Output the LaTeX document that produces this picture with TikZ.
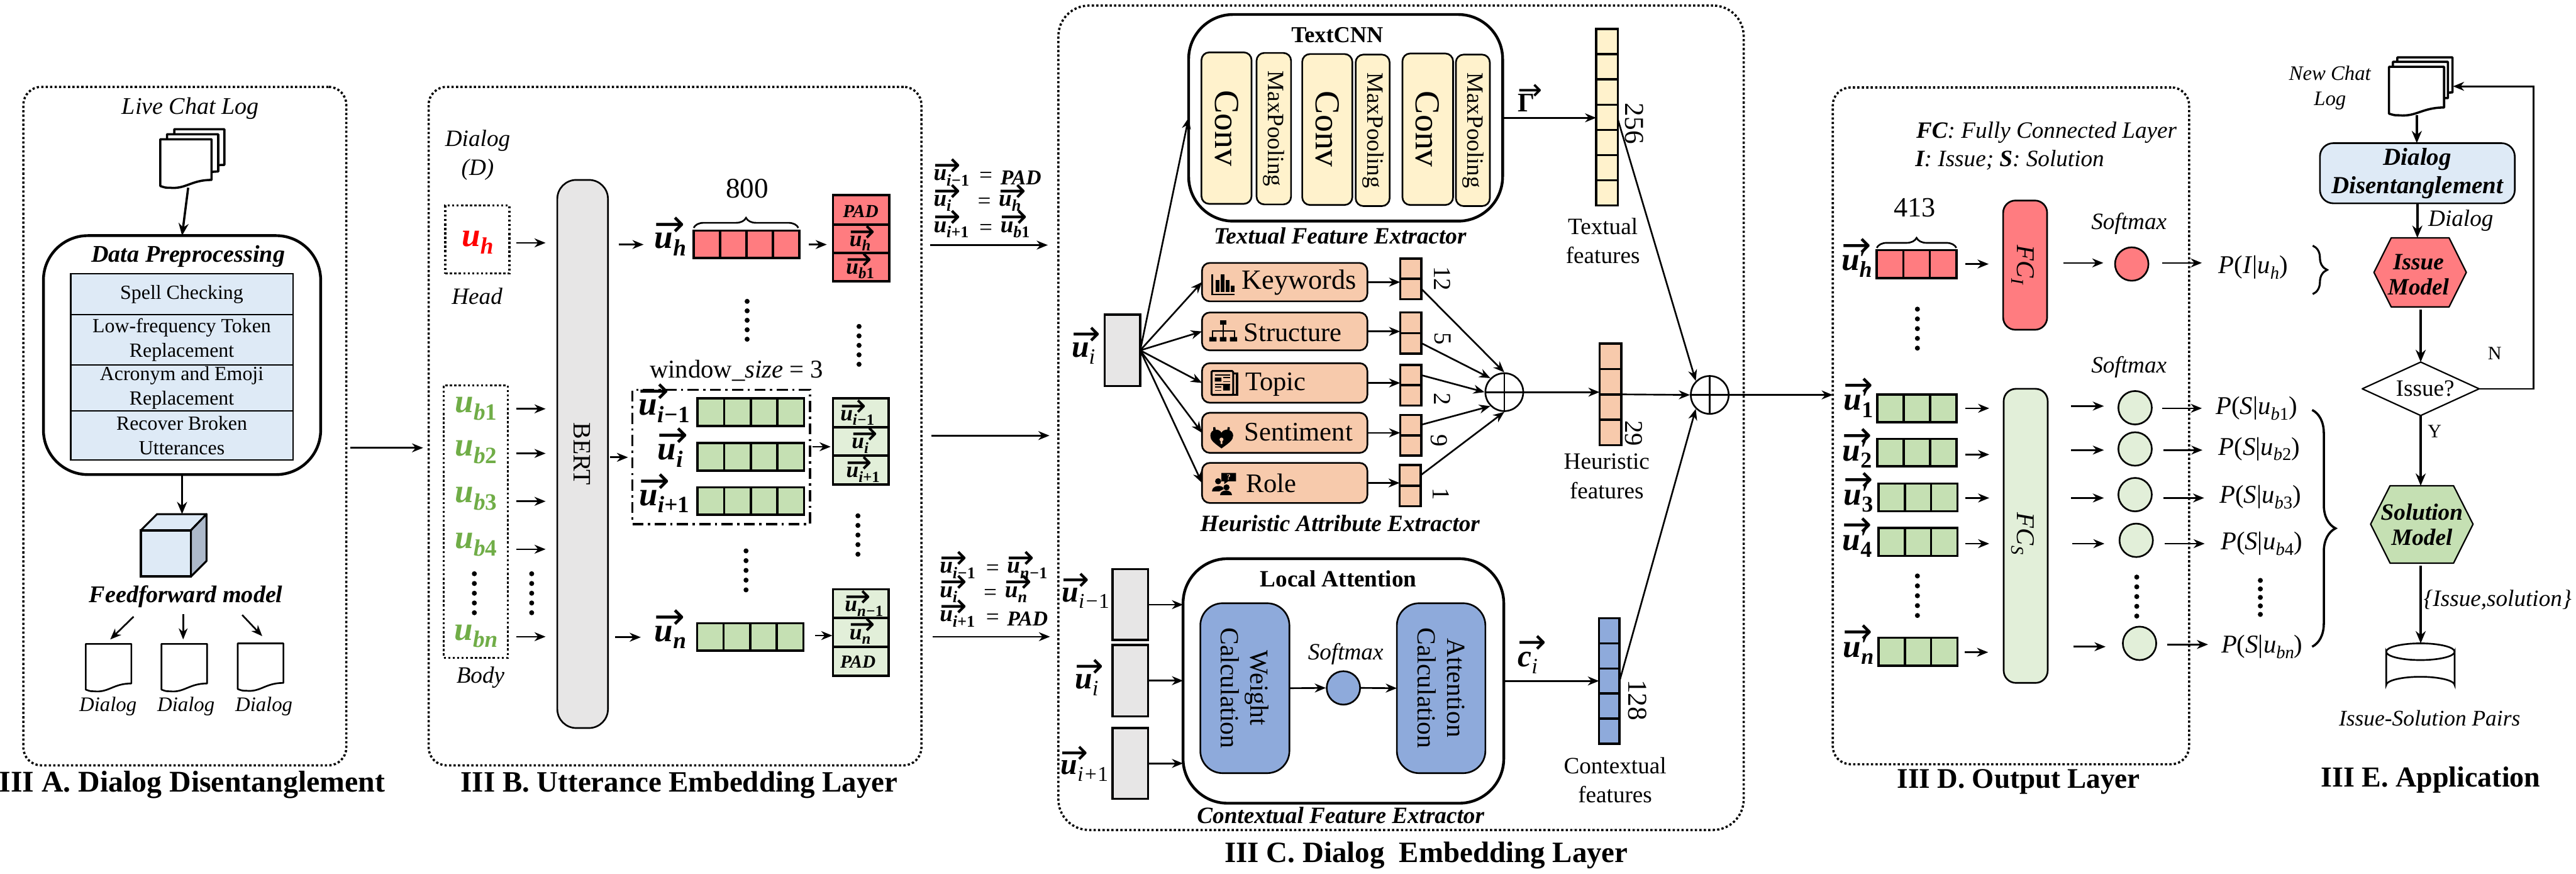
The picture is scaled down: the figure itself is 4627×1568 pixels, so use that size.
\RequirePackage{fix-cm}
\documentclass[tikz,border=0pt]{standalone}
\usepackage{amsmath,graphicx}
\usepackage[no-math]{fontspec}
\setmainfont{Liberation Serif}
\newfontfamily\arrf{DejaVu Sans}
\usetikzlibrary{arrows.meta,decorations.pathreplacing}
\definecolor{cred}{HTML}{FF7C80}
\definecolor{cgreen}{HTML}{C5E0B3}
\definecolor{cpale}{HTML}{E2EFD9}
\definecolor{ccream}{HTML}{FFF2CC}
\definecolor{corange}{HTML}{F7CAAC}
\definecolor{cblue}{HTML}{8EAADB}
\definecolor{cpblue}{HTML}{DEEAF6}
\definecolor{cgray}{HTML}{E7E6E6}
\definecolor{cside}{HTML}{ADB9CA}
\definecolor{ugreen}{HTML}{70AD47}
\tikzset{
  arr/.style={-{Stealth[length=20pt,width=16pt]},line width=3pt},
  arrb/.style={-{Stealth[length=22pt,width=18pt]},line width=4pt},
  frame/.style={draw,line width=4pt,dash pattern=on 4pt off 4pt,rounded corners=32pt},
  lab/.style={inner sep=0pt,outer sep=0pt,align=center},
  cell/.style={draw,line width=4pt},
  rbox/.style={draw,line width=3pt,rounded corners=#1},
  bigbox/.style={draw,line width=5pt,rounded corners=80pt},
  ghost/.style={},
  plainc/.style={draw,circle,line width=3pt,inner sep=0pt,minimum size=#1},
}
\newcommand\bx[7]{\node[#6,inner sep=0pt,outer sep=0pt,minimum width={#4-#2},minimum height={#5-#3},align=center] (#1) at ({(#2+#4)/2},{(#3+#5)/2}) {#7};}
\newcommand\lb[6]{\node[lab,font=\fontsize{#4}{#4}\selectfont #5] (#1) at (#2,#3) {#6};}
\newcommand\rlb[6]{\node[lab,rotate=-90,font=\fontsize{#4}{#4}\selectfont #5] (#1) at (#2,#3) {#6};}
\newcommand\fa[5]{\coordinate (#1a) at (#2,#3); \coordinate (#1b) at (#4,#5); \draw[arr] (#1a) -- (#1b);}
\newcommand\cellsh[7]{\bx{#1}{#2}{#3}{#4}{#5}{cell,fill=#7}{}
  \foreach \k in {1,...,#6}{\draw[line width=4pt] ({#2+(#4-#2)*\k/(#6+1)},#3) -- ({#2+(#4-#2)*\k/(#6+1)},#5);}}
\newcommand\cellsv[7]{\bx{#1}{#2}{#3}{#4}{#5}{cell,fill=#7}{}
  \foreach \k in {1,...,#6}{\draw[line width=4pt] (#2,{#3+(#5-#3)*\k/(#6+1)}) -- (#4,{#3+(#5-#3)*\k/(#6+1)});}}
\newcommand\dotcol[3]{\foreach \k in {0,...,4}{\fill (#1,{#2+(#3-#2)*\k/4}) circle (4.5pt);}}
\newcommand\docp[5]{\path[draw,fill=white,line width=#5,line join=round] (#1,#2) -- (#3,#2) -- (#3,{#4-14})
  .. controls ({#1+(#3-#1)*.6},{#4-14}) and ({#1+(#3-#1)*.5},{#4+3}) .. ({#1+(#3-#1)*.18},#4)
  .. controls ({#1+(#3-#1)*.1},#4) .. (#1,{#4-3}) -- cycle;}
\newcommand\arrowtop[2]{\rlap{\smash{\raisebox{#1}{\scalebox{#2}{\upshape\mdseries\arrf →}}}}}
\newcommand\ssb[1]{\raisebox{-.22em}{\scalebox{.7}{#1}}}
\newcommand\uu[1]{\mbox{\bfseries\itshape u\ssb{#1}}}
\newcommand\vu[1]{\mbox{\bfseries\itshape\arrowtop{.37em}{1.1}u\ssb{#1}}}
\newcommand\vus[1]{\mbox{\bfseries\itshape\arrowtop{.2em}{1.4}u\ssb{#1}}}
\newcommand\vup[1]{\mbox{\bfseries\itshape\arrowtop{.42em}{1.1}u\rlap{\raisebox{.12em}{\scalebox{.75}{′}}}\ssb{#1}}}
\newcommand\pp[2]{\textit{P}(\textit{#1}|\textit{u}\ssb{\textit{#2}})}
\newcommand\eqr[6]{\node[lab,anchor=west,font=\fontsize{42}{42}\selectfont] (#1x) at (#2,#3) {#4};
  \node[lab,anchor=west,font=\fontsize{42}{42}\selectfont] (#1e) at (#5,#3) {=};
  \node[lab,anchor=west,font=\fontsize{42}{42}\selectfont] (#1y) at ({#5+38},#3) {#6};}
\newcommand\pad{{\fontsize{38}{38}\selectfont\bfseries\itshape PAD}}
\begin{document}
\begin{tikzpicture}[x=1pt,y=-1pt]
\useasboundingbox (0,0) rectangle (4627,1568);
\fill[white] (0,0) rectangle (4627,1568);

%% ===== Panel A =====
\bx{panA}{42}{156}{622}{1374}{frame}{}
\lb{liveL}{342}{195}{43}{\itshape}{Live Chat Log}
\docp{313}{232}{403}{310}{4pt}
\docp{300}{241}{392}{322}{4pt}
\docp{288}{250}{380}{337}{4pt}
\bx{liveD}{288}{250}{388}{337}{ghost}{}
\bx{prep}{78}{423}{576}{852}{bigbox}{}
\lb{prepT}{338}{460}{43}{\bfseries\itshape}{Data Preprocessing}
\bx{t1}{127}{491}{526}{565}{draw,line width=2.5pt,fill=cpblue,font=\fontsize{36}{45}\selectfont}{Spell Checking}
\bx{t2}{127}{565}{526}{655}{draw,line width=2.5pt,fill=cpblue,font=\fontsize{36}{44}\selectfont}{Low-frequency Token\\Replacement}
\bx{t3}{127}{655}{526}{738}{draw,line width=2.5pt,fill=cpblue,font=\fontsize{36}{44}\selectfont}{Acronym and Emoji\\Replacement}
\bx{t4}{127}{738}{526}{826}{draw,line width=2.5pt,fill=cpblue,font=\fontsize{36}{44}\selectfont}{Recover Broken\\Utterances}
\draw[arrb] (liveD.south) -- (prep.north);
\bx{cube}{253}{952}{343}{1035}{draw,line width=4pt,fill=cpblue}{}
\draw[line width=3.5pt,fill=cpblue,line join=round] (253,952) -- (282,923) -- (371,923) -- (343,952) -- cycle;
\draw[line width=3.5pt,fill=cside,line join=round] (343,952) -- (371,923) -- (371,1007) -- (343,1035) -- cycle;
\coordinate (cubetop) at (327,923);
\draw[arrb] (prep.south) -- (cubetop);
\lb{ffL}{334}{1071}{43}{\bfseries\itshape}{Feedforward model}
\fa{ff1}{240}{1107}{198}{1148}
\fa{ff2}{329}{1103}{329}{1148}
\fa{ff3}{435}{1104}{471}{1142}
\docp{154}{1156}{236}{1241}{3pt}
\docp{290}{1156}{372}{1241}{3pt}
\docp{427}{1155}{509}{1240}{3pt}
\lb{dl1}{194}{1268}{37}{\itshape}{Dialog}
\lb{dl2}{334}{1268}{37}{\itshape}{Dialog}
\lb{dl3}{474}{1268}{37}{\itshape}{Dialog}
\lb{titA}{345}{1409}{54}{\bfseries}{III A. Dialog Disentanglement}
\fa{ab}{629}{804}{760}{804}

%% ===== Panel B =====
\bx{panB}{770}{156}{1655}{1374}{frame}{}
\lb{dD}{858}{278}{42}{\itshape}{Dialog\\[10pt](D)}
\bx{headb}{800}{369}{915}{491}{draw,line width=4pt,dash pattern=on 4pt off 4pt}{}
\lb{uh}{858}{435}{60}{\color{red}}{\uu{h}}
\lb{headL}{857}{532}{42}{\itshape}{Head}
\bx{bert}{1001}{323}{1092}{1307}{draw,line width=3pt,fill=cgray,rounded corners=34pt}{}
\rlb{bertL}{1045}{815}{45}{}{BERT}
\fa{h0}{927}{436}{980}{436}
\bx{bodyb}{797}{692}{912}{1181}{draw,line width=4pt,dash pattern=on 4pt off 4pt}{}
\lb{ub1}{855}{734}{60}{\color{ugreen}}{\uu{b\textup{1}}}
\lb{ub2}{855}{812}{60}{\color{ugreen}}{\uu{b\textup{2}}}
\lb{ub3}{855}{895}{60}{\color{ugreen}}{\uu{b\textup{3}}}
\lb{ub4}{855}{978}{60}{\color{ugreen}}{\uu{b\textup{4}}}
\lb{ubn}{855}{1142}{60}{\color{ugreen}}{\uu{bn}}
\dotcol{852}{1030}{1100}
\dotcol{955}{1030}{1100}
\fa{b1}{927}{734}{980}{734}
\fa{b2}{927}{814}{980}{814}
\fa{b3}{927}{900}{980}{900}
\fa{b4}{927}{986}{980}{986}
\fa{bn}{927}{1143}{980}{1143}
\lb{bodyL}{863}{1216}{42}{\itshape}{Body}
\fa{e1}{1111}{439}{1156}{439}
\lb{vuh}{1204}{439}{60}{}{\vu{h}}
\cellsh{rbar}{1246}{414}{1436}{463}{3}{cred}
\coordinate (br1a) at (1246,409); \coordinate (br1b) at (1434,409);
\draw[line width=3pt,decorate,decoration={brace,amplitude=18pt}] (br1a) -- (br1b);
\lb{n800}{1342}{338}{51}{}{800}
\fa{e2}{1453}{439}{1485}{439}
\bx{s11}{1496}{350}{1597}{403}{cell,fill=cred}{}
\bx{s12}{1496}{403}{1597}{454}{cell,fill=cred}{}
\bx{s13}{1496}{454}{1597}{505}{cell,fill=cred}{}
\lb{s11t}{1546}{379}{33}{\bfseries\itshape}{PAD}
\lb{s12t}{1545}{437}{40}{}{\vus{h}}
\lb{s13t}{1545}{487}{40}{}{\vus{b\textup{1}}}
\dotcol{1342}{541}{609}
\dotcol{1543}{586}{654}
\lb{winL}{1323}{665}{46}{}{window{\itshape\_size} = 3}
\bx{winb}{1136}{700}{1455}{941}{draw,line width=4pt,dash pattern=on 20pt off 8pt on 4pt off 8pt}{}
\cellsh{g1}{1253}{715}{1444}{765}{3}{cgreen}
\cellsh{g2}{1253}{795}{1444}{845}{3}{cgreen}
\cellsh{g3}{1253}{875}{1444}{924}{3}{cgreen}
\lb{vi1}{1193}{738}{60}{}{\vu{i−\textup{1}}}
\lb{vi2}{1204}{818}{60}{}{\vu{i}}
\lb{vi3}{1193}{900}{60}{}{\vu{i+\textup{1}}}
\fa{e3}{1096}{821}{1128}{821}
\fa{e4}{1459}{802}{1492}{802}
\bx{s21}{1496}{715}{1596}{767}{cell,fill=cpale}{}
\bx{s22}{1496}{767}{1596}{818}{cell,fill=cpale}{}
\bx{s23}{1496}{818}{1596}{870}{cell,fill=cpale}{}
\lb{s21t}{1540}{750}{40}{}{\vus{i−\textup{1}}}
\lb{s22t}{1545}{800}{40}{}{\vus{i}}
\lb{s23t}{1550}{852}{40}{}{\vus{i+\textup{1}}}
\dotcol{1340}{989}{1059}
\dotcol{1541}{926}{995}
\cellsh{g4}{1252}{1119}{1443}{1168}{3}{cgreen}
\lb{vun}{1204}{1144}{60}{}{\vu{n}}
\fa{e5}{1105}{1144}{1151}{1144}
\fa{e6}{1464}{1141}{1495}{1141}
\bx{s31}{1496}{1058}{1596}{1109}{cell,fill=cpale}{}
\bx{s32}{1496}{1109}{1596}{1161}{cell,fill=cpale}{}
\bx{s33}{1496}{1161}{1596}{1213}{cell,fill=cpale}{}
\lb{s31t}{1552}{1093}{40}{}{\vus{n−\textup{1}}}
\lb{s32t}{1545}{1143}{40}{}{\vus{n}}
\lb{s33t}{1541}{1188}{33}{\bfseries\itshape}{PAD}
\lb{titB}{1220}{1409}{53}{\bfseries}{III B. Utterance Embedding Layer}
% equations
\eqr{q1}{1677}{319}{\vus{i−\textup{1}}}{1759}{\pad}
\eqr{q2}{1677}{365}{\vus{i}}{1756}{\vus{h}}
\eqr{q3}{1677}{412}{\vus{i+\textup{1}}}{1759}{\vus{b\textup{1}}}
\fa{c1}{1671}{440}{1882}{440}
\fa{c2}{1673}{782}{1885}{782}
\eqr{q4}{1688}{1024}{\vus{i−\textup{1}}}{1771}{\vus{n−\textup{1}}}
\eqr{q5}{1688}{1067}{\vus{i}}{1767}{\vus{n}}
\eqr{q6}{1688}{1111}{\vus{i+\textup{1}}}{1771}{\pad}
\fa{c3}{1675}{1143}{1886}{1143}

%% ===== Panel C =====
\bx{panC}{1901}{10}{3132}{1490}{frame,rounded corners=55pt}{}
\bx{cnn}{2135}{26}{2699}{397}{bigbox}{}
\lb{cnnT}{2402}{63}{41}{\bfseries}{TextCNN}
\bx{cv1}{2158}{94}{2248}{366}{rbox=14pt,fill=ccream}{}
\bx{mp1}{2257}{95}{2319}{367}{rbox=14pt,fill=ccream}{}
\bx{cv2}{2339}{97}{2429}{368}{rbox=14pt,fill=ccream}{}
\bx{mp2}{2435}{98}{2496}{370}{rbox=14pt,fill=ccream}{}
\bx{cv3}{2519}{96}{2610}{368}{rbox=14pt,fill=ccream}{}
\bx{mp3}{2615}{98}{2676}{370}{rbox=14pt,fill=ccream}{}
\rlb{cv1t}{2203}{230}{63}{}{Conv}
\rlb{mp1t}{2288}{231}{42}{}{MaxPooling}
\rlb{cv2t}{2384}{232}{63}{}{Conv}
\rlb{mp2t}{2466}{234}{42}{}{MaxPooling}
\rlb{cv3t}{2564}{232}{63}{}{Conv}
\rlb{mp3t}{2646}{234}{42}{}{MaxPooling}
\lb{gamL}{2742}{185}{48}{\bfseries}{\mbox{\arrowtop{.45em}{1.1}Γ}}
\cellsv{tbar}{2867}{52}{2906}{369}{6}{ccream}
\draw[arr] (cnn.east) -- (cnn.east -| tbar.west);
\rlb{n256}{2935}{222}{49}{}{256}
\lb{tfL}{2879}{432}{42}{}{Textual\\[10pt]features}
\lb{tfeL}{2407}{423}{42}{\bfseries\itshape}{Textual Feature Extractor}
% heuristic boxes
\bx{kw}{2159}{472}{2456}{541}{rbox=14pt,fill=corange}{}
\bx{st}{2159}{561}{2456}{629}{rbox=14pt,fill=corange}{}
\bx{tp}{2159}{652}{2456}{723}{rbox=14pt,fill=corange}{}
\bx{se}{2159}{741}{2456}{813}{rbox=14pt,fill=corange}{}
\bx{ro}{2159}{831}{2456}{903}{rbox=14pt,fill=corange}{}
\node[lab,anchor=west,font=\fontsize{50}{50}\selectfont] (kwT) at (2231,507) {Keywords};
\node[lab,anchor=west,font=\fontsize{48}{48}\selectfont] (stT) at (2234,597) {Structure};
\node[lab,anchor=west,font=\fontsize{48}{48}\selectfont] (tpT) at (2237,690) {Topic};
\node[lab,anchor=west,font=\fontsize{48}{48}\selectfont] (seT) at (2235,776) {Sentiment};
\node[lab,anchor=west,font=\fontsize{48}{48}\selectfont] (roT) at (2238,868) {Role};
% icons
\draw[line width=3pt] (2177,492) -- (2177,528.5) -- (2218,528.5);
\foreach \xa/\ya in {2184/503,2193/492,2202/503,2211/513}{\fill (\xa,\ya) rectangle ({\xa+6},524);}
\fill (2191,575) rectangle (2203,583);
\draw[line width=2.2pt] (2197,583) -- (2197,605) (2178,605) -- (2178,594) -- (2217,594) -- (2217,605);
\fill (2172,605) rectangle (2185,613) (2191,605) rectangle (2203,613) (2209,605) rectangle (2222,613);
\draw[line width=3.5pt,rounded corners=2pt] (2176,666) rectangle (2215,709);
\draw[line width=3.5pt] (2215,670) -- (2222,670) -- (2222,709) -- (2180,709);
\fill (2182,678) rectangle (2194,685) (2197,691) rectangle (2209,701);
\draw[line width=2pt] (2182,673) -- (2209,673) (2197,678) -- (2209,678) (2197,685) -- (2209,685) (2182,690) -- (2209,690) (2182,695) -- (2194,695) (2182,701) -- (2194,701);
% sentiment icon
\draw[line width=3.5pt] (2181,782) -- (2181,767) arc (180:0:13 and 13) -- (2207,772);
\fill (2194,805) .. controls (2180,795) and (2174,790) .. (2174,782) .. controls (2174,770) and (2190,768) .. (2194,777) .. controls (2198,768) and (2215,770) .. (2215,782) .. controls (2215,790) and (2208,795) .. (2194,805) -- cycle;
\fill[corange] (2194,789) circle (3.5pt) (2192.5,789) rectangle (2195.5,797);
% role icon
\fill (2194,849) rectangle (2220,864) (2199,864) -- (2206,864) -- (2199,869) -- cycle;
\node[lab,text=corange,font=\fontsize{14}{14}\selectfont\bfseries] (roq) at (2207,856.5) {?};
\fill (2188,864) circle (5.5pt) (2203,875) circle (5.5pt);
\fill (2177,882) .. controls (2177,870) and (2198,870) .. (2198,878) -- (2190,882) -- cycle;
\fill (2192,889) .. controls (2192,878) and (2213,878) .. (2213,889) -- cycle;
\cellsv{kb}{2515}{464}{2553}{537}{1}{corange}
\cellsv{sb}{2515}{561}{2553}{635}{1}{corange}
\cellsv{tb}{2515}{655}{2553}{728}{1}{corange}
\cellsv{eb}{2515}{745}{2553}{818}{1}{corange}
\cellsv{rb}{2514}{835}{2552}{909}{1}{corange}
\rlb{n12}{2591}{500}{44}{}{12}
\rlb{n5}{2591}{608}{44}{}{5}
\rlb{n2}{2591}{716}{44}{}{2}
\rlb{n9}{2585}{791}{44}{}{9}
\rlb{n1}{2588}{887}{44}{}{1}
\draw[arr] (kw.east) -- (kw.east -| kb.west);
\draw[arr] (st.east) -- (st.east -| sb.west);
\draw[arr] (tp.east) -- (tp.east -| tb.west);
\draw[arr] (se.east) -- (se.east -| eb.west);
\draw[arr] (ro.east) -- (ro.east -| rb.west);
\bx{uib}{1984}{565}{2048}{693}{cell,fill=cgray}{}
\lb{uiL}{1946}{634}{56}{}{\vu{\mdseries i}}
\draw[arr] (uib.east) -- (cnn.west);
\draw[arr] (uib.east) -- (kw.west);
\draw[arr] (uib.east) -- (st.west);
\draw[arr] (uib.east) -- (tp.west);
\draw[arr] (uib.east) -- (se.west);
\draw[arr] (uib.east) -- (ro.west);
\node[plainc=68pt] (p1) at (2702,704) {};
\draw[line width=3pt] (p1.north) -- (p1.south) (p1.west) -- (p1.east);
\draw[arr] ([yshift=-18pt]kb.east) -- (p1.north);
\draw[arr] ([yshift=-18pt]sb.east) -- (p1.135);
\draw[arr] ([yshift=18pt]tb.east) -- (p1.west);
\draw[arr] ([yshift=19pt]eb.east) -- (p1.-135);
\draw[arr] ([yshift=19pt]rb.east) -- (p1.south);
\cellsv{hb}{2873}{617}{2912}{799}{3}{corange}
\draw[arr] (p1.east) -- (p1.east -| hb.west);
\rlb{n29}{2935}{778}{46}{}{29}
\lb{hfL}{2886}{855}{42}{}{Heuristic\\[10pt]features}
\lb{haL}{2407}{940}{42}{\bfseries\itshape}{Heuristic Attribute Extractor}
\node[plainc=68pt] (p2) at (3071,709) {};
\draw[line width=3pt] (p2.north) -- (p2.south) (p2.west) -- (p2.east);
\draw[arr] (hb.east) -- (p2.west);
\draw[arr] ([yshift=-4pt]tbar.east) -- (p2.135);
% local attention
\bx{la}{2125}{1003}{2701}{1442}{bigbox}{}
\lb{laT}{2404}{1039}{42}{\bfseries}{Local Attention}
\bx{wc}{2156}{1083}{2316}{1388}{rbox=40pt,fill=cblue}{}
\bx{ac}{2509}{1083}{2668}{1388}{rbox=40pt,fill=cblue}{}
\rlb{wcT}{2236}{1235}{47}{}{Weight\\[6pt]Calculation}
\rlb{acT}{2589}{1235}{47}{}{Attention\\[6pt]Calculation}
\lb{smL}{2417}{1174}{42}{\itshape}{Softmax}
\node[plainc=60pt,fill=cblue] (smc) at (2413,1235) {};
\draw[arr] (wc.east) -- (smc.west);
\draw[arr] (smc.east) -- (ac.west);
\bx{gb1}{1998}{1022}{2062}{1149}{cell,fill=cgray}{}
\bx{gb2}{1998}{1158}{2062}{1286}{cell,fill=cgray}{}
\bx{gb3}{1998}{1307}{2062}{1434}{cell,fill=cgray}{}
\lb{gb1L}{1950}{1074}{54}{}{\vu{\mdseries i−\textup{1}}}
\lb{gb2L}{1952}{1230}{56}{}{\vu{\mdseries i}}
\lb{gb3L}{1948}{1384}{54}{}{\vu{\mdseries i+\textup{1}}}
\draw[arr] (gb1.east) -- (gb1.east -| la.west);
\draw[arr] (gb2.east) -- (gb2.east -| la.west);
\draw[arr] (gb3.east) -- (gb3.east -| la.west);
\cellsv{cb}{2872}{1110}{2909}{1335}{4}{cblue}
\draw[arr] (la.east) -- (la.east -| cb.west);
\draw[arr] (cb.east) -- (p2.-135);
\lb{ciL}{2744}{1190}{56}{}{\mbox{\bfseries\itshape\arrowtop{.42em}{1.1}c\ssb{\mdseries i}}}
\rlb{n128}{2941}{1257}{49}{}{128}
\lb{cfL}{2901}{1400}{42}{}{Contextual\\[10pt]features}
\lb{cfeL}{2408}{1464}{42}{\bfseries\itshape}{Contextual Feature Extractor}
\lb{titC}{2562}{1536}{53}{\bfseries}{III C. Dialog\ \ Embedding Layer}

%% ===== Panel D =====
\bx{panD}{3292}{157}{3932}{1372}{frame}{}
\draw[arr] (p2.east) -- (p2.east -| panD.west);
\node[lab,anchor=west,font=\fontsize{42}{42}\selectfont\itshape] (fcL) at (3442,238) {\textbf{FC}: Fully Connected Layer};
\node[lab,anchor=west,font=\fontsize{42}{42}\selectfont\itshape] (isL) at (3440,288) {\textbf{I}: Issue; \textbf{S}: Solution};
\lb{n413}{3439}{373}{50}{}{413}
\coordinate (br2a) at (3371,445); \coordinate (br2b) at (3514,445);
\draw[line width=3pt,decorate,decoration={brace,amplitude=18pt}] (br2a) -- (br2b);
\cellsh{orb}{3371}{449}{3514}{499}{2}{cred}
\lb{ouh}{3335}{474}{58}{}{\vup{h}}
\fa{o1}{3530}{474}{3572}{474}
\bx{fci}{3598}{360}{3677}{592}{rbox=22pt,fill=cred}{}
\rlb{fciT}{3633}{476}{46}{}{\textit{FC}\ssb{\textit{I}}}
\lb{omL}{3824}{401}{42}{\itshape}{Softmax}
\fa{o2}{3706}{472}{3778}{472}
\node[plainc=60pt,fill=cred] (oc0) at (3829,474) {};
\coordinate (o3a) at (3884,472); \coordinate (o3b) at (3955,472); \draw[arr] (o3a) -- (o3b);
\lb{pih}{4047}{480}{46}{}{\pp{I}{h}}
\dotcol{3444}{555}{625}
\cellsh{ob1}{3372}{708}{3514}{758}{2}{cgreen}
\cellsh{ob2}{3372}{788}{3514}{837}{2}{cgreen}
\cellsh{ob3}{3374}{868}{3516}{918}{2}{cgreen}
\cellsh{ob4}{3374}{948}{3516}{998}{2}{cgreen}
\cellsh{obn}{3374}{1145}{3516}{1195}{2}{cgreen}
\lb{ou1}{3338}{725}{58}{}{\vup{\textup{1}}}
\lb{ou2}{3336}{816}{58}{}{\vup{\textup{2}}}
\lb{ou3}{3338}{895}{58}{}{\vup{\textup{3}}}
\lb{ou4}{3336}{976}{58}{}{\vup{\textup{4}}}
\lb{oun}{3338}{1168}{58}{}{\vup{n}}
\fa{l1}{3530}{733}{3573}{733}
\fa{l2}{3530}{816}{3573}{816}
\fa{l3}{3530}{894}{3573}{894}
\fa{l4}{3530}{976}{3573}{976}
\fa{ln}{3529}{1171}{3571}{1171}
\dotcol{3444}{1034}{1105}
\bx{fcs}{3599}{698}{3678}{1226}{rbox=22pt,fill=cpale}{}
\rlb{fcsT}{3633}{958}{46}{}{\textit{FC}\ssb{\textit{S}}}
\lb{omL2}{3824}{659}{42}{\itshape}{Softmax}
\fa{m1}{3720}{729}{3779}{729}
\fa{m2}{3720}{808}{3779}{808}
\fa{m3}{3720}{894}{3779}{894}
\fa{m4}{3722}{976}{3780}{976}
\fa{mn}{3724}{1161}{3782}{1161}
\node[plainc=60pt,fill=cpale] (oc1) at (3835,732) {};
\node[plainc=60pt,fill=cpale] (oc2) at (3835,806) {};
\node[plainc=60pt,fill=cpale] (oc3) at (3835,888) {};
\node[plainc=60pt,fill=cpale] (oc4) at (3837,970) {};
\node[plainc=60pt,fill=cpale] (ocn) at (3843,1155) {};
\dotcol{3838}{1036}{1106}
\fa{r1}{3884}{733}{3955}{733}
\fa{r2}{3886}{808}{3956}{808}
\fa{r3}{3886}{894}{3959}{894}
\fa{r4}{3888}{976}{3960}{976}
\fa{rn}{3893}{1157}{3966}{1157}
\lb{pb1}{4053}{733}{46}{}{\pp{S}{b\textup{1}}}
\lb{pb2}{4058}{806}{46}{}{\pp{S}{b\textup{2}}}
\lb{pb3}{4060}{892}{46}{}{\pp{S}{b\textup{3}}}
\lb{pb4}{4062}{976}{46}{}{\pp{S}{b\textup{4}}}
\dotcol{4060}{1042}{1103}
\lb{pbn}{4063}{1161}{46}{}{\pp{S}{bn}}
\coordinate (b3a) at (4154,441); \coordinate (b3b) at (4154,528);
\draw[line width=3.5pt,decorate,decoration={brace,amplitude=26pt}] (b3a) -- (b3b);
\coordinate (b4a) at (4153,736); \coordinate (b4b) at (4153,1161);
\draw[line width=4pt,decorate,decoration={brace,amplitude=42pt}] (b4a) -- (b4b);
\lb{titD}{3626}{1403}{51}{\bfseries}{III D. Output Layer}

%% ===== Panel E =====
\lb{ncL}{4185}{158}{37}{\itshape}{New Chat\\[8pt]Log}
\docp{4306}{103}{4405}{180}{4pt}
\docp{4298}{111}{4397}{190}{4pt}
\docp{4291}{120}{4390}{207}{4pt}
\bx{ncD}{4291}{120}{4405}{207}{ghost}{}
\bx{dd}{4167}{257}{4517}{365}{rbox=24pt,fill=cpblue,font=\fontsize{44}{51}\selectfont\bfseries\itshape}{Dialog\\Disentanglement}
\coordinate (ncout) at (4341,207);
\draw[arrb] (ncout) -- (ncout |- dd.north);
\bx{ihx}{4264}{427}{4430}{551}{ghost}{}
\fill[cred,draw=black,line width=2.5pt,line join=round] (4264,489) -- (4295,427) -- (4399,427) -- (4430,489) -- (4399,551) -- (4295,551) -- cycle;
\lb{ihT}{4344}{493}{42}{\bfseries\itshape}{Issue\\[4pt]Model}
\coordinate (ddout) at (4342,365);
\draw[arrb] (ddout) -- (ddout |- ihx.north);
\lb{ddL}{4420}{396}{42}{\itshape}{Dialog}
\bx{dia}{4243}{650}{4453}{746}{ghost}{}
\draw[line width=2.5pt,line join=round] (4243,698) -- (4348,650) -- (4453,698) -- (4348,746) -- cycle;
\lb{diaT}{4356}{698}{42}{}{Issue?}
\coordinate (ihout) at (4348,556);
\draw[arrb] (ihout) -- (dia.north);
\lb{nL}{4481}{634}{34}{}{N}
\lb{yL}{4373}{775}{34}{}{Y}
\coordinate (lp1) at (4551,698);
\coordinate (lp2) at (4551,155);
\coordinate (lp3) at (4406,155);
\draw[arr] (dia.east) -- (lp1) -- (lp2) -- (lp3);
\bx{shx}{4258}{872}{4442}{1011}{ghost}{}
\fill[cgreen,draw=black,line width=2.5pt,line join=round] (4258,941) -- (4293,872) -- (4407,872) -- (4442,941) -- (4407,1011) -- (4293,1011) -- cycle;
\lb{shT}{4350}{942}{42}{\bfseries\itshape}{Solution\\[4pt]Model}
\draw[arrb] (dia.south) -- (dia.south |- shx.north);
\bx{db}{4286}{1155}{4409}{1245}{ghost}{}
\draw[line width=3pt,fill=white] (4286,1170) -- (4286,1230) arc (180:360:61.5 and 15) -- (4409,1170) arc (0:180:61.5 and 15) -- cycle;
\draw[line width=3pt] (4286,1170) arc (180:360:61.5 and 15);
\coordinate (shout) at (4348,1016);
\draw[arrb] (shout) -- (shout |- db.north);
\lb{isL2}{4486}{1077}{42}{\itshape}{\{Issue,solution\}}
\lb{ispL}{4364}{1289}{40}{\itshape}{Issue-Solution Pairs}
\lb{titE}{4366}{1400}{52}{\bfseries}{III E. Application}
\end{tikzpicture}
\end{document}
